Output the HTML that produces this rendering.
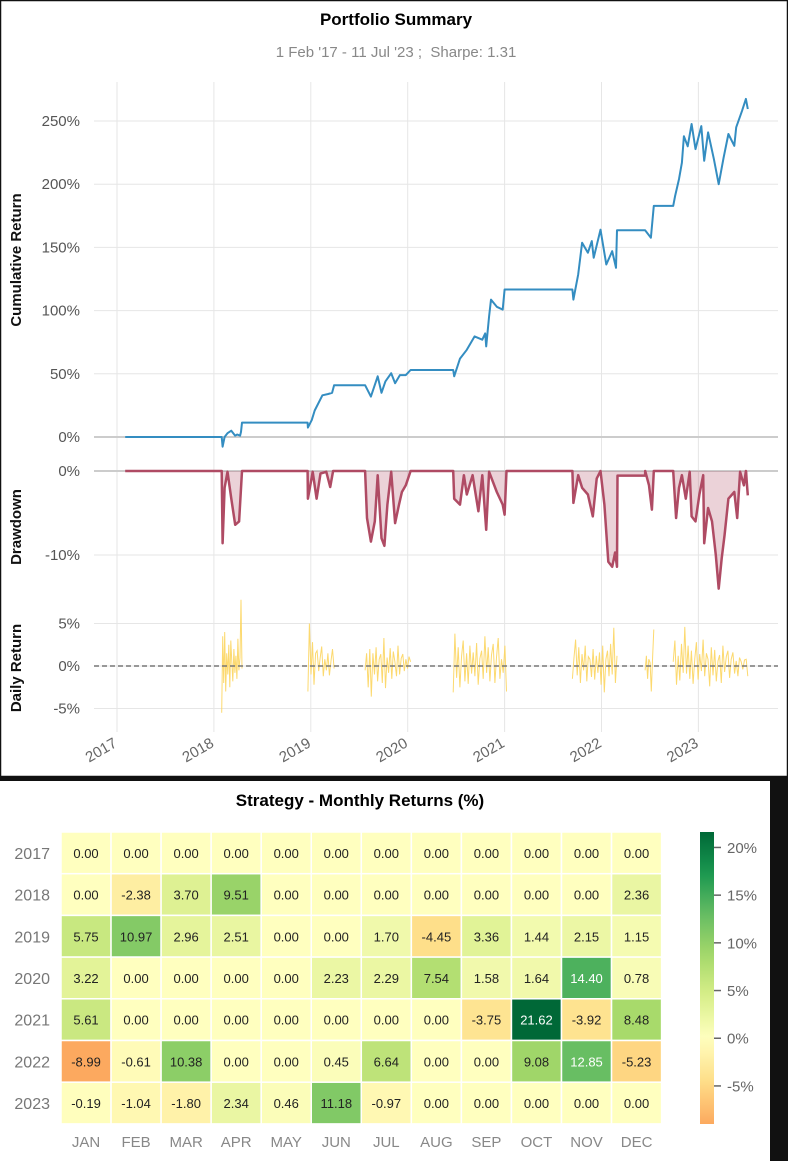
<!DOCTYPE html>
<html><head><meta charset="utf-8">
<style>
html,body{margin:0;padding:0;background:#fff;}
body{width:788px;height:1161px;overflow:hidden;position:relative;font-family:"Liberation Sans",Arial,sans-serif;}
svg text{font-family:"Liberation Sans",Arial,sans-serif;}
</style></head>
<body>
<svg id="fig" width="788" height="1161" xmlns="http://www.w3.org/2000/svg">
  <rect x="0" y="0" width="788" height="1161" fill="#fff"/>
  <rect x="0" y="776" width="788" height="5" fill="#111"/>
  <rect x="770" y="776" width="18" height="385" fill="#111"/>
  <rect x="0.5" y="0.5" width="787" height="776" fill="none" stroke="#111" stroke-width="1.5"/>
  <text x="396" y="25" text-anchor="middle" font-size="17" font-weight="bold" fill="#000">Portfolio Summary</text>
  <text x="396" y="57" text-anchor="middle" font-size="15" fill="#888">1 Feb '17 - 11 Jul '23 ;&#160; Sharpe: 1.31</text>
  <g id="grid"></g>
  <g id="marks"></g>
  <g id="axes"></g>
  <text x="360" y="806" text-anchor="middle" font-size="17" font-weight="bold" fill="#000">Strategy - Monthly Returns (%)</text>
  <g id="heat"></g>
</svg>
<script>
// ---- data ----
const yearTicks = [2017, 2018, 2019, 2020, 2021, 2022, 2023];
const cumTicks = [0, 50, 100, 150, 200, 250];
const ddTicks = [0, -10];
const dailyTicks = [5, 0, -5];
const cumDates = [2017.085,2018.08,2018.09,2018.11,2018.14,2018.18,2018.22,2018.24,2018.27,2018.28,2018.29,2018.967,2018.97,2019.01,2019.04,2019.12,2019.18,2019.22,2019.24,2019.56,2019.62,2019.69,2019.73,2019.77,2019.83,2019.87,2019.92,2019.98,2020.03,2020.47,2020.48,2020.54,2020.61,2020.69,2020.77,2020.80,2020.81,2020.84,2020.86,2020.92,2020.98,2021.00,2021.70,2021.71,2021.76,2021.80,2021.86,2021.90,2021.92,2021.99,2022.05,2022.11,2022.15,2022.16,2022.45,2022.51,2022.54,2022.74,2022.76,2022.80,2022.83,2022.85,2022.89,2022.93,2022.97,2023.03,2023.06,2023.10,2023.16,2023.21,2023.26,2023.31,2023.37,2023.39,2023.45,2023.49,2023.51];
const cumValues = [0,0,-7.7,0,3,5,1,2,1,4,11.4,11.4,7.4,13.5,21,33,34,35,41,41,32,48,35,44,50.5,42.6,49,49,53,53,48,62,69,79.6,77,82,71.7,95.5,108.7,103,100.8,116.7,116.7,108.7,128.6,153.7,145.8,155,141.8,164,136.5,147,133.9,163.5,163.5,157.7,182.8,182.8,190.7,204,217,238,230,247.6,227.8,246,218.5,241,219.8,200,221,239.7,230.4,245,258,267.5,259.5];
const ddDates = [2017.085,2018.08,2018.09,2018.11,2018.14,2018.18,2018.22,2018.26,2018.29,2018.967,2018.97,2019.02,2019.06,2019.10,2019.16,2019.20,2019.23,2019.56,2019.58,2019.62,2019.66,2019.69,2019.73,2019.76,2019.79,2019.83,2019.87,2019.91,2019.94,2019.98,2020.03,2020.47,2020.48,2020.54,2020.58,2020.61,2020.67,2020.73,2020.77,2020.81,2020.84,2020.92,2020.98,2021.00,2021.02,2021.70,2021.71,2021.76,2021.80,2021.86,2021.91,2021.95,2021.99,2022.03,2022.07,2022.11,2022.14,2022.16,2022.165,2022.45,2022.451,2022.49,2022.52,2022.54,2022.74,2022.77,2022.80,2022.83,2022.87,2022.91,2022.93,2022.97,2023.01,2023.05,2023.06,2023.10,2023.14,2023.18,2023.21,2023.24,2023.27,2023.31,2023.37,2023.40,2023.43,2023.47,2023.49,2023.51];
const ddValues = [0,0,-8.6,-2,-0.1,-3.3,-6.4,-6,0,0,-3.3,-0.1,-3.3,-0.3,-0.1,-1.9,0,0,-5.6,-8.4,-6,-0.5,-8,-8.9,-4,-0.1,-6.2,-4,-2.5,-1.7,0,0,-3.3,-4,-0.5,-2.8,-0.5,-4.8,-0.5,-7,-0.1,-2.5,-4,-5.2,0,0,-3.8,-0.5,-2,-2.8,-5.4,-0.9,0,-4,-10.8,-11.4,-9.7,-11.4,-0.55,-0.55,0,-1.7,-4.6,0,0,-5.6,-2,-0.5,-3.3,-0.1,-5.4,-6,-2.8,-0.5,-8.6,-4.4,-6,-10,-14,-10.4,-7.6,-3.3,-2.5,-5.6,-0.1,-1.7,0,-2.9];
const dailyStarts = [2018.08, 2018.97, 2019.56, 2020.47, 2021.70, 2022.45, 2022.74];
const dailyEnds = [2018.29, 2019.24, 2020.03, 2021.02, 2022.16, 2022.54, 2023.51];
const daily1 = [-5.5,3.5,-2,4,-3,1.5,-1,2.5,-2.5,3,0.5,-1.8,2,-0.8,1.2,-1.5,3.2,-0.5,1,7.8,-0.3];
const daily2 = [-3,5,-1,2.8,-2.2,1.5,1.8,-0.6,1,2.3,-1.2,0.8,-0.5,1.5,-1.1,0.6,2,-0.3];
const daily3 = [-0.5,1.5,-2.5,2,-3.6,1.5,-1,2.2,-1.8,0.8,1.4,-2,3.3,-2.6,1,-0.8,2.1,-1.5,1.7,0.5,-1.2,2.4,-1,0.9,1.4,-0.6,0.8,-0.3,1.1,0.5];
const daily4 = [-3.1,3.8,-1.4,2.2,-2.5,1.2,3,-1.8,1.5,-2.1,2.4,-0.9,1.6,-1.2,2.7,-2.2,0.9,1.8,-1.5,3.5,-0.8,2.2,-1.8,1.3,2.6,-2,1,3.3,-1.5,0.8,-0.8,2.4,-3];
const daily5 = [-1.5,1,3.1,-1.1,2.2,-2,1.4,-0.5,2.4,-1.8,1.1,0.8,-1.3,2,-1.6,1.2,-0.8,1.6,-2.2,2.4,-3.1,0.8,1.8,-1.2,2.6,-1,4.5,-2,1.2];
const daily6 = [-0.5,1.2,-1.5,0.8,0.4,-3,1,4.3];
const daily7 = [0.5,3,-2.2,1.2,-1.7,2.6,-0.8,4.6,-0.9,2.4,-1.5,1.8,-2.1,0.9,2.8,-1.6,1.4,-0.6,3.1,-1.2,1.5,0.8,-2.4,2.2,-1.1,1.9,-1.8,0.6,1.3,-2,2.4,-0.7,1.1,1.8,-1.4,0.8,1.6,-0.9,0.6,-1.2,1.0,0.5,-0.4,0.7,0.8,-1.2];
const dailyBlocks = [daily1, daily2, daily3, daily4, daily5, daily6, daily7];
const hmYears = [2017, 2018, 2019, 2020, 2021, 2022, 2023];
const hmMonths = ["JAN","FEB","MAR","APR","MAY","JUN","JUL","AUG","SEP","OCT","NOV","DEC"];
const r2017 = [0,0,0,0,0,0,0,0,0,0,0,0];
const r2018 = [0,-2.38,3.70,9.51,0,0,0,0,0,0,0,2.36];
const r2019 = [5.75,10.97,2.96,2.51,0,0,1.70,-4.45,3.36,1.44,2.15,1.15];
const r2020 = [3.22,0,0,0,0,2.23,2.29,7.54,1.58,1.64,14.40,0.78];
const r2021 = [5.61,0,0,0,0,0,0,0,-3.75,21.62,-3.92,8.48];
const r2022 = [-8.99,-0.61,10.38,0,0,0.45,6.64,0,0,9.08,12.85,-5.23];
const r2023 = [-0.19,-1.04,-1.80,2.34,0.46,11.18,-0.97,0,0,0,0,0];
const hmRows = [r2017, r2018, r2019, r2020, r2021, r2022, r2023];
const cbTicks = [20, 15, 10, 5, 0, -5];

// ---- scales ----
const NS = "http://www.w3.org/2000/svg";
const X = y => 117 + (y - 2017) * 96.9;
const Ycum = v => 437 - v * 1.264;
const Ydd = v => 471 - v * 8.4;
const Yd = v => 666 - v * 8.5;
const PL = 94, PR = 778;
function mk(tag, attrs, parent) {
  const e = document.createElementNS(NS, tag);
  for (const k in attrs) e.setAttribute(k, attrs[k]);
  parent.appendChild(e); return e;
}
const grid = document.getElementById('grid'), marks = document.getElementById('marks'), axes = document.getElementById('axes');

yearTicks.forEach(yr => {
  const l = mk('line', {x1: X(yr), x2: X(yr), y1: 82, y2: 732, stroke: '#e6e6e6', 'stroke-width': 1}, grid);
  
  
  const t = mk('text', {x: X(yr) + 1, y: 746, 'font-size': 15, fill: '#666', 'text-anchor': 'end', transform: `rotate(-30 ${X(yr)+1} 746)`}, axes);
  t.textContent = yr;
  
  
});
function yAxis(ticks, fy, fmt, zeroDark) {
  ticks.forEach(v => {
    const l = mk('line', {x1: PL, x2: PR, y1: fy(v), y2: fy(v), stroke: (v === 0 && zeroDark) ? '#ccc' : '#e6e6e6', 'stroke-width': (v === 0 && zeroDark) ? 2 : 1}, grid);
    
    
    const t = mk('text', {x: 80, y: fy(v) + 5, 'font-size': 15, fill: '#555', 'text-anchor': 'end'}, axes);
    t.textContent = fmt(v);
    
    
  });
}
yAxis(cumTicks, Ycum, v => v + '%', true);
yAxis(ddTicks, Ydd, v => v + '%', true);
yAxis(dailyTicks, Yd, v => v + '%', false);

[["Cumulative Return", 260], ["Drawdown", 527], ["Daily Return", 668]].forEach(([s, cy]) => {
  const t = mk('text', {x: 21, y: cy, 'font-size': 15, 'font-weight': 'bold', fill: '#111', 'text-anchor': 'middle', transform: `rotate(-90 21 ${cy})`}, axes);
  t.textContent = s;
  
  
});

const cumPath = mk('path', {d: cumDates.map((d, i) => (i ? 'L' : 'M') + X(d).toFixed(1) + ' ' + Ycum(cumValues[i]).toFixed(1)).join(''), fill: 'none', stroke: '#348dc1', 'stroke-width': 2, 'stroke-linejoin': 'round'}, marks);



const ddLine = ddDates.map((d, i) => (i ? 'L' : 'M') + X(d).toFixed(1) + ' ' + Ydd(ddValues[i]).toFixed(1)).join('');
const ddArea = mk('path', {d: ddLine + `L${X(ddDates[ddDates.length-1])} ${Ydd(0)}L${X(ddDates[0])} ${Ydd(0)}Z`, fill: '#af4b64', 'fill-opacity': 0.25, stroke: 'none'}, marks);


const ddPath = mk('path', {d: ddLine, fill: 'none', stroke: '#af4b64', 'stroke-width': 2.5, 'stroke-linejoin': 'round'}, marks);



const zl = mk('line', {x1: PL, x2: PR, y1: Yd(0), y2: Yd(0), stroke: '#777', 'stroke-width': 1.5, 'stroke-dasharray': '5,3'}, marks);


dailyBlocks.forEach((vals, b) => {
  const s = dailyStarts[b], e = dailyEnds[b], n = vals.length;
  const p = mk('path', {d: vals.map((v, i) => (i ? 'L' : 'M') + X(s + (e - s) * i / (n - 1)).toFixed(1) + ' ' + Yd(v).toFixed(1)).join(''), fill: 'none', stroke: '#fcd55f', 'stroke-width': 1, 'stroke-opacity': 0.9}, marks);
  
  
});
marks.appendChild(zl);

// ---- heatmap ----
const heat = document.getElementById('heat');
const stops = ['#a50026','#d73027','#f46d43','#fdae61','#fee08b','#ffffbf','#d9ef8b','#a6d96a','#66bd63','#1a9850','#006837'];
const VMAX = 21.62;
function hex(c){return [1,3,5].map(i=>parseInt(c.substr(i,2),16));}
function cmap(v) {
  let t = (v + VMAX) / (2 * VMAX); t = Math.max(0, Math.min(1, t));
  const f = t * 10, i = Math.min(9, Math.floor(f)), r = f - i;
  const a = hex(stops[i]), b = hex(stops[i + 1]);
  return 'rgb(' + a.map((c, k) => Math.round(c + (b[k] - c) * r)).join(',') + ')';
}
const HX = 61, HY = 832, CW = 50.05, CH = 41.7;
hmRows.forEach((row, r) => {
  const yl = mk('text', {x: 50, y: HY + r * CH + CH / 2 + 6, 'font-size': 16, fill: '#777', 'text-anchor': 'end'}, heat);
  yl.textContent = hmYears[r];
  
  
  row.forEach((v, c) => {
    const rc = mk('rect', {x: HX + c * CW, y: HY + r * CH, width: CW, height: CH, fill: cmap(v), stroke: '#fff', 'stroke-width': 1.5}, heat);
    
    
    const t = mk('text', {x: HX + c * CW + CW / 2, y: HY + r * CH + CH / 2 + 5, 'font-size': 13, fill: v > 12 ? '#fff' : '#222', 'text-anchor': 'middle'}, heat);
    t.textContent = v.toFixed(2);
    
    
  });
});
hmMonths.forEach((m, c) => {
  const t = mk('text', {x: HX + c * CW + CW / 2, y: 1147, 'font-size': 15, fill: '#888', 'text-anchor': 'middle'}, heat);
  t.textContent = m;
  
  
});
const CBT = 832, CBB = 1124, CBMIN = -8.99, CBMAX = 21.62;
const Ycb = v => CBB - (v - CBMIN) / (CBMAX - CBMIN) * (CBB - CBT);
const defs = mk('defs', {}, heat);
const grad = mk('linearGradient', {id: 'cbg', x1: 0, y1: 1, x2: 0, y2: 0}, defs);
for (let k = 0; k <= 20; k++) {
  const v = CBMIN + (CBMAX - CBMIN) * k / 20;
  mk('stop', {offset: k / 20, 'stop-color': cmap(v)}, grad);
}
const cb = mk('rect', {x: 700, y: CBT, width: 14, height: CBB - CBT, fill: 'url(#cbg)'}, heat);


cbTicks.forEach(v => {
  const l = mk('line', {x1: 714, x2: 721, y1: Ycb(v), y2: Ycb(v), stroke: '#666', 'stroke-width': 1.5}, heat);
  
  
  const t = mk('text', {x: 727, y: Ycb(v) + 5.5, 'font-size': 15, fill: '#666'}, heat);
  t.textContent = v + '%';
  
  
});
</script>
</body></html>
